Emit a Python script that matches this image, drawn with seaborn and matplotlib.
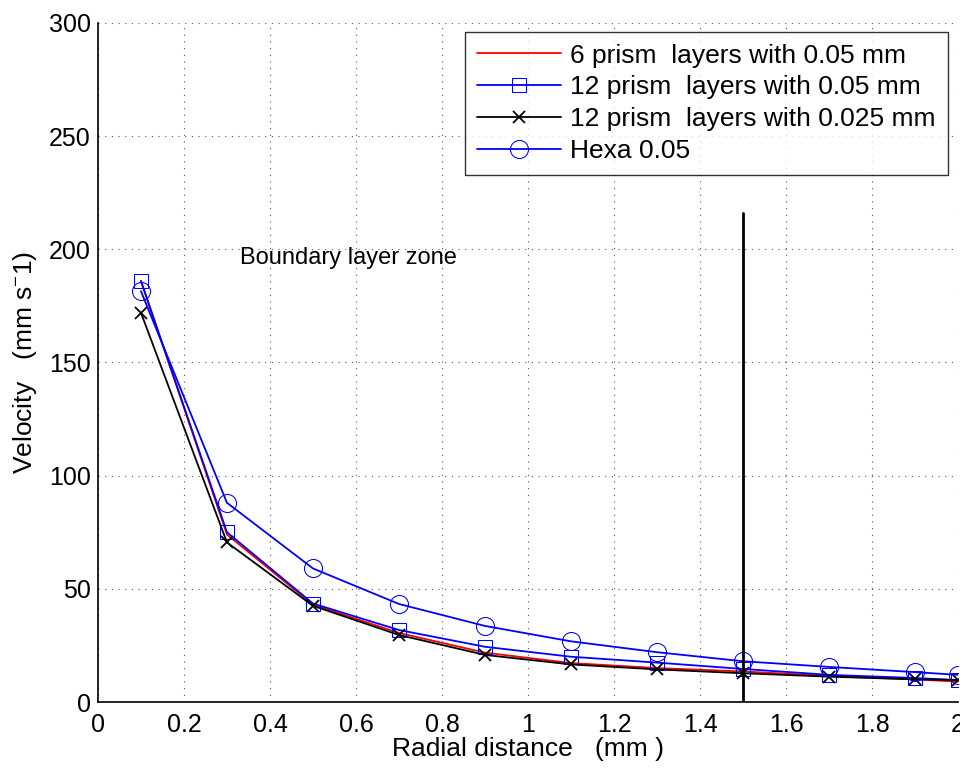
import numpy as np
import pandas as pd
import matplotlib
matplotlib.use("Agg")
import matplotlib.pyplot as plt
import matplotlib.ticker as mticker
import seaborn as sns

# radial distance (mm)
radial = [0.1, 0.3, 0.5, 0.7, 0.9, 1.1, 1.3, 1.5, 1.7, 1.9, 2.0]

# velocity (mm/s) per mesh
prism6_005 = [186, 74, 43, 30.5, 21.8, 17.2, 15.0, 13.5, 11.5, 10.0, 9.0]
prism12_005 = [186, 75, 43.5, 31.8, 24.4, 20.0, 17.4, 14.6, 12.0, 10.6, 9.7]
prism12_0025 = [172, 70.5, 42.5, 29.6, 20.8, 16.6, 14.4, 12.7, 11.2, 10.0, 9.7]
hexa_005 = [181.5, 88, 59, 43.3, 33.6, 26.8, 22.0, 18.0, 15.5, 13.2, 12.0]

labels = ["6 prism  layers with 0.05 mm",
          "12 prism  layers with 0.05 mm",
          "12 prism  layers with 0.025 mm",
          "Hexa 0.05"]

boundary_x = 1.5
boundary_top = 216

sns.set_style("white")
plt.rcParams['font.family'] = ['Liberation Sans', 'DejaVu Sans']
plt.rcParams['mathtext.fontset'] = 'custom'
plt.rcParams['mathtext.rm'] = 'Liberation Sans'
plt.rcParams['mathtext.it'] = 'Liberation Sans'
plt.rcParams['text.color'] = 'black'
plt.rcParams['axes.labelcolor'] = 'black'
plt.rcParams['xtick.color'] = 'black'
plt.rcParams['ytick.color'] = 'black'

fig = plt.figure(figsize=(9.6, 7.7), dpi=100)
ax = fig.add_axes([0.102, 0.0883, 0.896, 0.882])

series = [
    (prism6_005, dict(color='red', marker=None)),
    (prism12_005, dict(color='blue', marker='s', markersize=10)),
    (prism12_0025, dict(color='black', marker='x', markersize=9, markeredgewidth=1.3)),
    (hexa_005, dict(color='blue', marker='o', markersize=13)),
]

for (vals, style), lab in zip(series, labels):
    sns.lineplot(x=radial, y=vals, ax=ax, label=lab, linewidth=1.3,
                 markerfacecolor='none', markeredgecolor=style['color'],
                 **style)

# boundary layer limit
ax.plot([boundary_x, boundary_x], [0, boundary_top], color='black', linewidth=2)
ax.text(0.33, 196, "Boundary layer zone", fontsize=17, va='center', ha='left')

ax.set_xlim(0, 2)
ax.set_ylim(0, 300)
ax.set_xticks(np.arange(0, 2.01, 0.2))
ax.set_yticks(np.arange(0, 301, 50))
ax.xaxis.set_major_formatter(mticker.FormatStrFormatter('%g'))
ax.tick_params(direction='in', length=8, width=1, labelsize=18)
ax.tick_params(axis='x', pad=8)
ax.tick_params(axis='y', pad=5)
ax.grid(True, linestyle=(0, (1, 5)), color='#555555', linewidth=0.8)
for side in ['top', 'right']:
    ax.spines[side].set_visible(False)
for side in ['left', 'bottom']:
    ax.spines[side].set_linewidth(1.2)
    ax.spines[side].set_color('black')

ax.set_xlabel("Radial distance   (mm )", fontsize=19, labelpad=0)
ax.set_ylabel("Velocity   (mm s$^{-}$1)", fontsize=19, labelpad=7)

leg = ax.legend(loc='upper right', bbox_to_anchor=(0.988, 0.987), fontsize=19,
                frameon=True, fancybox=False, edgecolor='black',
                handlelength=3.2, borderpad=0.45, labelspacing=0.3,
                handletextpad=0.35, borderaxespad=0)
leg.get_frame().set_linewidth(1.0)

fig.savefig("out.png", dpi=100)
